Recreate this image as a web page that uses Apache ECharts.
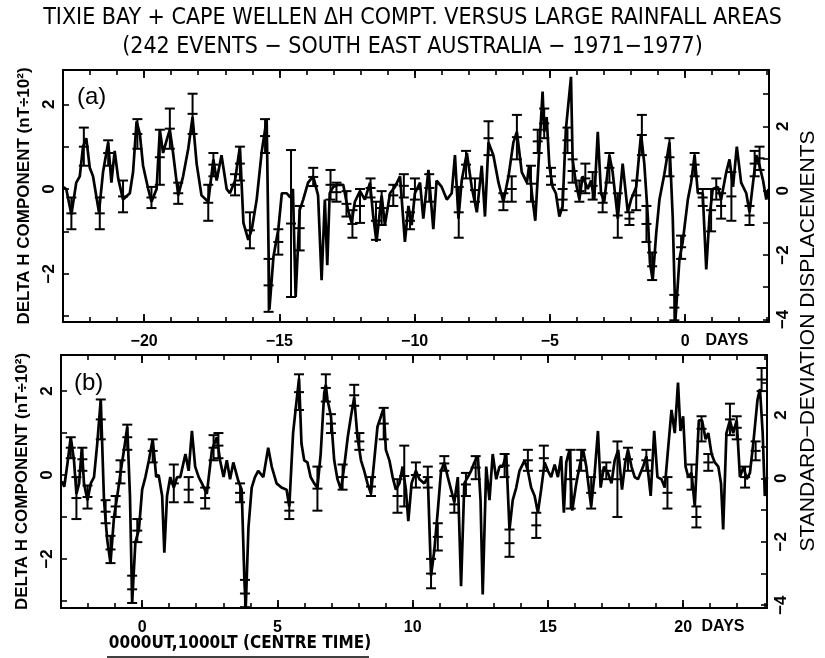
<!DOCTYPE html>
<html><head><meta charset="utf-8">
<script src="https://cdn.jsdelivr.net/npm/echarts@6/dist/echarts.min.js"></script>
<style>html,body{margin:0;padding:0;background:#fff}#c{width:825px;height:658px}</style>
</head><body><div id="c"></div>
<script>
// ---------- Panel (a): days relative to event, -23 .. +3 ----------
const daysA = [-23.0,-22.88,-22.69,-22.51,-22.38,-22.26,-22.14,-22.01,-21.89,-21.67,-21.52,-21.33,-21.21,-21.09,-20.96,-20.78,-20.53,-20.41,-20.28,-20.16,-20.04,-19.85,-19.73,-19.54,-19.42,-19.3,-19.17,-19.05,-18.93,-18.74,-18.56,-18.37,-18.21,-18.06,-17.88,-17.63,-17.44,-17.32,-17.14,-16.95,-16.83,-16.64,-16.46,-16.33,-16.15,-16.02,-15.84,-15.65,-15.47,-15.37,-15.22,-15.04,-14.91,-14.73,-14.6,-14.5,-14.4,-14.25,-14.12,-13.94,-13.75,-13.57,-13.44,-13.32,-13.23,-13.14,-13.01,-12.83,-12.64,-12.46,-12.33,-12.21,-12.02,-11.84,-11.65,-11.53,-11.41,-11.22,-11.1,-10.91,-10.73,-10.54,-10.36,-10.23,-10.11,-9.99,-9.8,-9.68,-9.49,-9.31,-9.19,-9.0,-8.81,-8.63,-8.51,-8.38,-8.26,-8.07,-7.89,-7.7,-7.52,-7.4,-7.27,-7.09,-6.9,-6.72,-6.53,-6.35,-6.22,-6.04,-5.85,-5.77,-5.64,-5.54,-5.4,-5.27,-5.21,-5.12,-5.02,-4.9,-4.78,-4.65,-4.53,-4.41,-4.22,-4.16,-4.04,-3.91,-3.79,-3.6,-3.48,-3.36,-3.23,-3.11,-2.99,-2.8,-2.68,-2.49,-2.31,-2.12,-2.0,-1.81,-1.63,-1.51,-1.38,-1.3,-1.2,-1.07,-0.95,-0.77,-0.58,-0.46,-0.36,-0.21,-0.09,0.1,0.22,0.35,0.47,0.65,0.78,0.9,1.02,1.21,1.33,1.52,1.64,1.77,1.91,2.07,2.26,2.38,2.51,2.63,2.75,2.88,3.0,3.08];
const valsA = [0.05,0.0,-0.6,0.15,0.3,1.0,1.2,0.5,0.3,-0.55,0.4,1.1,0.15,0.9,0.25,-0.25,-0.1,0.4,1.6,1.3,0.55,0.0,-0.3,0.0,1.4,0.85,1.15,1.4,0.85,-0.15,0.3,0.95,1.7,0.6,-0.15,-0.3,0.7,0.2,0.8,0.0,-0.1,0.2,1.0,-0.8,-1.2,-0.95,-0.25,0.9,1.65,-2.85,-1.6,-0.95,-0.1,-0.1,-0.2,0.0,-2.55,-0.5,-0.25,0.15,0.3,-0.15,-2.15,-0.25,-1.8,-0.1,0.05,0.1,0.1,-0.5,-0.8,-0.3,-0.05,-0.25,0.15,-0.65,-1.25,-0.15,-0.85,-0.1,0.05,0.3,-1.25,-0.4,-0.85,-0.1,0.15,-0.7,0.45,-0.95,0.2,0.05,-0.25,-0.1,0.8,-0.7,0.2,0.85,0.05,-0.55,0.55,-0.65,1.1,0.8,0.15,-0.3,0.3,1.1,1.35,0.4,0.15,0.55,-0.25,-0.75,0.85,2.3,1.35,1.7,0.55,0.05,-0.1,-0.65,-0.4,1.4,2.65,0.7,0.15,-0.25,0.3,0.0,0.2,-0.25,1.35,-0.1,-0.3,0.8,0.4,-0.7,0.6,-0.55,-0.25,0.05,1.3,0.6,-0.65,-1.75,-2.15,-1.05,-0.25,0.35,1.1,-0.65,-3.1,-1.65,-1.25,-0.25,0.15,0.8,-0.1,-0.1,-1.9,-0.65,0.0,0.05,-0.25,0.4,0.7,0.05,1.0,0.15,-0.1,-0.55,0.15,0.8,0.55,0.2,-0.25,0.0];
const errDaysA = [-22.69,-22.23,-21.64,-21.33,-20.78,-20.25,-19.73,-19.42,-19.05,-18.74,-18.21,-17.63,-17.44,-16.64,-16.46,-16.09,-15.53,-15.4,-15.04,-14.57,-14.25,-13.75,-13.11,-12.89,-12.52,-12.3,-12.02,-11.63,-11.43,-11.22,-10.79,-10.4,-10.17,-9.99,-9.46,-8.37,-8.1,-7.77,-7.27,-6.72,-6.41,-6.22,-5.7,-5.45,-5.21,-4.96,-4.53,-4.35,-4.16,-3.91,-3.69,-3.42,-3.05,-2.8,-2.49,-2.06,-1.81,-1.6,-1.43,-1.22,-0.58,-0.4,-0.15,0.35,0.65,0.96,1.15,1.33,1.71,2.38,2.57,2.75];
const errHiA = [-0.2,1.45,-0.2,1.15,0.2,1.65,0.05,1.4,1.9,0.15,2.25,0.1,0.85,0.35,1.0,-0.55,1.65,-1.65,-0.95,0.92,-0.4,0.5,0.45,0.15,-0.05,-0.5,0.0,0.25,-0.3,-0.05,0.1,0.35,-0.55,0.25,0.35,0.05,0.9,0.25,1.6,-0.1,0.3,1.75,0.55,1.4,1.9,0.5,0.0,1.45,0.7,0.2,0.6,0.4,-0.1,0.85,-0.1,-0.55,0.2,1.75,-0.4,-1.5,1.2,-2.5,-1.1,0.85,0.0,0.0,0.25,-0.1,0.4,-0.4,0.9,1.0];
const errLoA = [-0.95,0.55,-0.95,0.55,-0.55,0.95,-0.45,0.1,0.95,-0.35,1.3,-0.75,0.3,-0.15,0.2,-1.4,0.85,-2.9,-1.55,-2.55,-1.45,0.07,-0.25,-0.3,-0.65,-1.15,-0.8,-0.2,-1.2,-0.85,-0.4,-0.2,-0.95,-0.25,-0.3,-1.15,0.25,-0.3,0.8,-0.5,-0.3,0.7,-0.3,0.85,1.2,0.1,-0.5,0.85,0.15,-0.3,-0.1,-0.25,-0.55,0.15,-1.15,-0.85,-0.5,0.8,-1.25,-2.15,0.3,-3.1,-1.65,0.3,-0.4,-1.0,-0.25,-0.7,-0.75,-0.85,0.3,0.45];

// ---------- Panel (b): days after 0000UT centre time, -3 .. +23 ----------
const daysB = [-2.97,-2.88,-2.76,-2.64,-2.52,-2.43,-2.33,-2.23,-2.15,-2.02,-1.9,-1.78,-1.66,-1.53,-1.41,-1.29,-1.17,-1.04,-0.92,-0.8,-0.67,-0.55,-0.45,-0.37,-0.25,-0.12,0.0,0.12,0.25,0.39,0.52,0.61,0.74,0.82,0.92,1.04,1.17,1.29,1.41,1.6,1.72,1.84,1.96,2.09,2.21,2.39,2.58,2.76,2.88,3.01,3.13,3.25,3.37,3.56,3.68,3.78,3.83,3.93,4.05,4.17,4.29,4.48,4.66,4.79,4.97,5.15,5.34,5.44,5.58,5.68,5.8,5.89,5.99,6.11,6.23,6.36,6.48,6.6,6.73,6.79,6.85,6.98,7.1,7.22,7.35,7.47,7.6,7.72,7.84,7.96,8.09,8.21,8.33,8.46,8.58,8.7,8.83,8.93,9.01,9.14,9.26,9.38,9.51,9.63,9.75,9.84,9.96,10.12,10.25,10.43,10.56,10.68,10.8,10.93,11.05,11.17,11.3,11.42,11.54,11.67,11.79,11.91,12.04,12.16,12.28,12.41,12.51,12.59,12.72,12.84,12.96,13.09,13.21,13.33,13.46,13.58,13.7,13.83,13.95,14.14,14.26,14.38,14.51,14.63,14.75,14.88,15.0,15.12,15.25,15.37,15.49,15.59,15.68,15.8,15.9,16.05,16.17,16.3,16.42,16.52,16.6,16.73,16.85,16.95,17.07,17.22,17.35,17.47,17.6,17.74,17.86,17.96,18.09,18.21,18.33,18.52,18.64,18.8,18.93,19.05,19.2,19.32,19.44,19.57,19.69,19.81,19.9,20.0,20.09,20.19,20.31,20.43,20.58,20.7,20.83,20.93,21.05,21.17,21.3,21.4,21.48,21.6,21.73,21.85,21.98,22.1,22.23,22.35,22.47,22.6,22.75,22.84,22.94,23.02,23.1];
const valsB = [-0.15,-0.28,0.28,0.9,0.35,-0.45,-0.2,0.65,-0.2,-0.6,-0.2,-0.05,0.75,1.8,-0.6,-1.55,-2.1,-1.0,-0.5,0.05,0.6,1.15,-0.5,-3.05,-1.6,-1.3,-0.35,-0.05,0.35,0.85,-0.05,0.0,-0.5,-1.85,-0.5,-0.05,-0.3,-0.05,-0.05,0.5,0.1,1.05,0.2,-0.05,-0.2,-0.45,0.6,0.9,0.35,-0.05,0.35,-0.1,0.3,-0.15,-0.35,-2.5,-3.15,-1.25,-0.3,-0.05,0.1,-0.05,0.65,0.2,-0.2,-0.3,-0.35,-0.75,1.0,1.6,2.3,0.75,0.35,0.3,-0.05,-0.2,-0.3,0.5,1.95,2.15,1.8,1.4,0.35,-0.1,-0.35,0.2,0.9,1.4,1.85,0.9,0.35,0.1,-0.2,-0.45,0.35,1.15,1.4,1.6,0.6,0.35,-0.05,-0.35,-0.2,0.2,-0.35,-1.1,-0.2,0.1,-0.1,-0.2,-0.05,-2.4,-1.8,-0.85,0.1,0.3,-0.05,-0.35,-0.65,-0.05,-2.65,-0.2,-0.05,0.1,0.3,0.45,-0.6,-2.85,0.2,-0.6,0.5,-0.1,0.2,0.2,0.5,-1.3,-0.6,-0.3,0.1,0.35,0.1,-0.3,-0.5,-0.9,-0.35,0.3,0.1,-0.05,0.25,-0.05,0.45,-0.9,0.3,0.6,-0.85,-0.2,0.2,0.6,0.2,-0.35,-0.75,0.05,1.05,-0.3,0.2,0.05,-0.2,0.35,0.6,-0.35,0.3,0.6,0.2,-0.05,-0.1,0.2,0.45,-0.5,1.05,-0.05,-0.1,-0.3,0.6,1.55,1.0,2.2,1.05,1.4,0.2,-0.05,0.05,-0.75,1.3,1.3,0.85,1.0,0.5,0.3,0.2,-0.2,-1.3,1.0,1.3,1.0,1.3,-0.05,0.2,-0.1,0.05,0.8,1.8,2.05,1.0,-0.5,-0.05];
const errDaysB = [-2.64,-2.43,-2.21,-2.02,-1.53,-1.35,-1.17,-0.98,-0.8,-0.55,-0.37,-0.18,0.39,1.17,1.72,2.33,2.64,2.82,3.62,3.8,5.44,5.8,6.48,6.79,6.98,7.41,7.84,8.03,8.46,8.93,9.44,9.69,10.12,10.56,10.68,10.93,11.17,11.54,11.97,12.33,13.4,13.58,14.26,14.57,14.85,15.84,16.23,16.6,17.16,17.57,17.96,18.64,19.42,20.31,20.49,20.68,20.93,21.73,21.98,22.29,22.68,22.9];
const errHiB = [0.9,-0.05,0.65,-0.25,1.8,-0.6,-1.45,-0.5,0.35,1.2,-2.4,-1.05,0.85,0.25,-0.05,-0.3,0.95,1.0,-0.2,-2.5,-0.65,2.4,0.2,2.4,1.45,0.25,2.15,1.0,-0.05,1.6,-0.1,0.7,0.3,0.2,-2.0,-1.15,0.45,-0.5,0.05,0.45,0.5,-1.3,0.6,-0.9,0.7,0.6,0.6,-0.05,0.3,0.8,0.65,0.6,-0.05,0.25,-0.75,1.4,0.5,1.7,1.4,0.2,0.8,2.55];
const errLoB = [0.4,-1.05,0.1,-0.8,0.85,-1.15,-2.1,-1.0,-0.2,0.6,-3.05,-1.6,0.3,-0.65,-0.65,-0.8,0.35,0.4,-0.65,-3.15,-1.05,1.55,-0.85,1.75,1.0,-0.35,1.65,0.6,-0.5,0.85,-0.9,-0.75,-0.3,-0.3,-2.7,-1.8,0.1,-0.9,-0.5,-0.1,-0.05,-1.95,0.1,-1.5,0.1,-0.8,0.1,-0.8,-0.1,-1.0,0.1,0.1,-0.8,-0.35,-1.25,0.8,0.1,0.95,0.85,-0.3,0.35,2.0];

// ---------- axis ticks & labels ----------
const xTicksA = [-23,-22,-21,-20,-19,-18,-17,-16,-15,-14,-13,-12,-11,-10,-9,-8,-7,-6,-5,-4,-3,-2,-1,0,1,2,3];
const xMajorA = [-20,-15,-10,-5,0];
const xTicksB = [-3,-2,-1,0,1,2,3,4,5,6,7,8,9,10,11,12,13,14,15,16,17,18,19,20,21,22,23];
const xMajorB = [0,5,10,15,20];
const yLeftTicks = [-3,-2,-1,0,1,2];
const yLeftLabels = [-2,0,2];
const yRightTicks = [-4,-3,-2,-1,0,1,2,3];
const yRightLabels = [-4,-2,0,2];

const titleLine1 = 'TIXIE BAY + CAPE WELLEN \u0394H COMPT. VERSUS LARGE RAINFALL AREAS';
const titleLine2 = '(242 EVENTS \u2212 SOUTH EAST AUSTRALIA \u2212 1971\u22121977)';
const yName = 'DELTA H COMPONENT (nT\u00F710\u00B2)';
const rightName = 'STANDARD\u2212DEVIATION DISPLACEMENTS';
const bottomName = '0000UT,1000LT (CENTRE TIME)';

const zip = (xs, ys) => xs.map((x, i) => [x, ys[i]]);
const zip3 = (xs, a, b) => xs.map((x, i) => [x, a[i], b[i]]);
const fmt = v => (v < 0 ? '\u2212' + (-v) : String(v));
const BLK = '#000';
const FONT = "'Liberation Sans', Arial, sans-serif";
const NARROW = "'Liberation Sans Narrow', 'DejaVu Sans Condensed', sans-serif";

const grids = [
  {left: 63, top: 70, width: 706, height: 252},
  {left: 61, top: 355, width: 706, height: 253}
];
const xRanges = [[-23, 3.1], [-3, 23.1]];
const xTicks = [xTicksA, xTicksB];
const xMajor = [xMajorA, xMajorB];
const yLeftRange = [[-3.14, 2.81], [-3.17, 2.86]];
const yRightRange = [[-4.08, 3.75], [-4.09, 3.89]];

const xAxis = [], yAxis = [];
for (let g = 0; g < 2; g++) {
  const base = {gridIndex: g, type: 'value', min: xRanges[g][0], max: xRanges[g][1], splitLine: {show: false}};
  xAxis.push(Object.assign({}, base, {
    position: 'bottom',
    axisLine: {show: true, onZero: false, lineStyle: {color: BLK, width: 2}},
    axisTick: {show: true, inside: true, length: 5, customValues: xTicks[g], lineStyle: {color: BLK, width: 1.6}},
    axisLabel: {show: true, customValues: xMajor[g], formatter: fmt, color: BLK, fontSize: 16, fontWeight: 'bold', fontFamily: FONT, margin: 12}
  }));
  xAxis.push(Object.assign({}, base, {
    position: 'top',
    axisLine: {show: true, onZero: false, lineStyle: {color: BLK, width: 2}},
    axisTick: {show: true, inside: true, length: 5, customValues: xTicks[g], lineStyle: {color: BLK, width: 1.6}},
    axisLabel: {show: false}
  }));
  ['bottom', 'top'].forEach(pos => {
    xAxis.push(Object.assign({}, base, {
      position: pos,
      axisLine: {show: false, onZero: false},
      axisTick: {show: true, inside: true, length: 8, customValues: xMajor[g], lineStyle: {color: BLK, width: 1.8}},
      axisLabel: {show: false}
    }));
  });
  yAxis.push({
    gridIndex: g, type: 'value', position: 'left', min: yLeftRange[g][0], max: yLeftRange[g][1],
    splitLine: {show: false},
    axisLine: {show: true, onZero: false, lineStyle: {color: BLK, width: 2}},
    axisTick: {show: true, inside: true, length: 6, customValues: yLeftTicks, lineStyle: {color: BLK, width: 1.6}},
    axisLabel: {customValues: yLeftLabels, formatter: fmt, rotate: 90, color: BLK, fontSize: 17, fontWeight: 'bold', fontFamily: FONT, margin: 5},
    name: yName, nameLocation: 'middle', nameRotate: 90, nameGap: 28,
    nameTextStyle: {color: BLK, fontSize: 17, fontWeight: 'bold', fontFamily: FONT}
  });
  yAxis.push({
    gridIndex: g, type: 'value', position: 'right', min: yRightRange[g][0], max: yRightRange[g][1],
    splitLine: {show: false},
    axisLine: {show: true, onZero: false, lineStyle: {color: BLK, width: 2}},
    axisTick: {show: true, inside: true, length: 6, customValues: yRightTicks, lineStyle: {color: BLK, width: 1.6}},
    axisLabel: {customValues: yRightLabels, formatter: fmt, rotate: 90, color: BLK, fontSize: 17, fontWeight: 'bold', fontFamily: FONT, margin: 6}
  });
}

function errRender(params, api) {
  const x = api.value(0), hi = api.value(1), lo = api.value(2);
  const pH = api.coord([x, hi]), pL = api.coord([x, lo]), pM = api.coord([x, (hi + lo) / 2]);
  const w = 5, st = {stroke: BLK, lineWidth: 2};
  return {type: 'group', children: [
    {type: 'line', shape: {x1: pH[0], y1: pH[1], x2: pL[0], y2: pL[1]}, style: st},
    {type: 'line', shape: {x1: pH[0] - w, y1: pH[1], x2: pH[0] + w, y2: pH[1]}, style: st},
    {type: 'line', shape: {x1: pL[0] - w, y1: pL[1], x2: pL[0] + w, y2: pL[1]}, style: st},
    {type: 'line', shape: {x1: pM[0] - w, y1: pM[1], x2: pM[0] + w, y2: pM[1]}, style: st}
  ]};
}

const series = [
  {type: 'line', xAxisIndex: 0, yAxisIndex: 0, data: zip(daysA, valsA), showSymbol: false, symbol: 'none',
   lineStyle: {color: BLK, width: 2.7}, animation: false, z: 3},
  {type: 'custom', xAxisIndex: 0, yAxisIndex: 0, data: zip3(errDaysA, errHiA, errLoA), renderItem: errRender,
   encode: {x: 0, y: [1, 2]}, animation: false, z: 4},
  {type: 'line', xAxisIndex: 4, yAxisIndex: 2, data: zip(daysB, valsB), showSymbol: false, symbol: 'none',
   lineStyle: {color: BLK, width: 2.7}, animation: false, z: 3},
  {type: 'custom', xAxisIndex: 4, yAxisIndex: 2, data: zip3(errDaysB, errHiB, errLoB), renderItem: errRender,
   encode: {x: 0, y: [1, 2]}, animation: false, z: 4}
];

const graphic = [
  {type: 'text', left: 'center', top: 7, style: {text: titleLine1, font: "23px " + NARROW, fill: BLK}},
  {type: 'text', left: 'center', top: 36, style: {text: titleLine2, font: "23px " + NARROW, fill: BLK}},
  {type: 'text', x: 77, y: 97, style: {text: '(a)', font: "24px " + FONT, fill: BLK, textVerticalAlign: 'middle'}},
  {type: 'text', x: 74, y: 383, style: {text: '(b)', font: "24px " + FONT, fill: BLK, textVerticalAlign: 'middle'}},
  {type: 'text', x: 727, y: 341, style: {text: 'DAYS', font: "bold 16px " + FONT, fill: BLK, textAlign: 'center', textVerticalAlign: 'middle'}},
  {type: 'text', x: 723, y: 627, style: {text: 'DAYS', font: "bold 16px " + FONT, fill: BLK, textAlign: 'center', textVerticalAlign: 'middle'}},
  {type: 'text', x: 240, y: 644, style: {text: bottomName, font: "bold 17px " + NARROW, fill: BLK, textAlign: 'center', textVerticalAlign: 'middle'}},
  {type: 'line', shape: {x1: 107, y1: 657, x2: 369, y2: 657}, style: {stroke: BLK, lineWidth: 1.6}},
  {type: 'text', x: 808, y: 341, rotation: Math.PI / 2, style: {text: rightName, font: "21px " + FONT, fill: BLK, textAlign: 'center', textVerticalAlign: 'middle'}}
];

const chart = echarts.init(document.getElementById('c'), null, {renderer: 'canvas'});
chart.setOption({animation: false, backgroundColor: '#fff', grid: grids, xAxis, yAxis, series, graphic});
</script>
</body></html>
